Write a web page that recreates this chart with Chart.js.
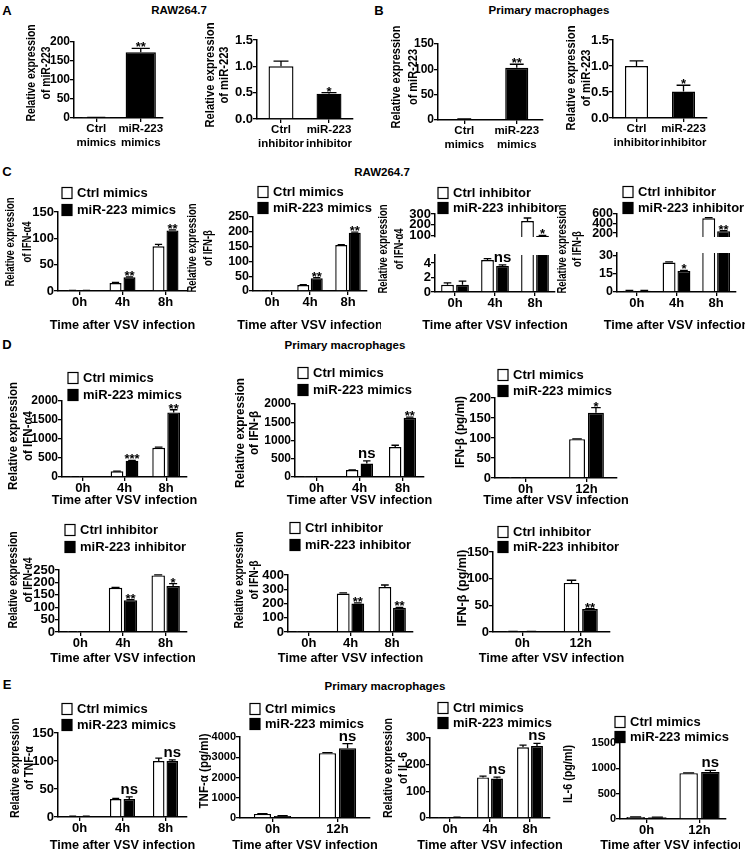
<!DOCTYPE html>
<html>
<head>
<meta charset="utf-8">
<script src="https://cdn.jsdelivr.net/npm/chart.js@4.4.1/dist/chart.umd.min.js"></script>
<style>
  body { margin: 0; width: 745px; height: 850px; position: relative; background: #fff; overflow: hidden;
         font-family: "Liberation Sans", Arial, sans-serif; font-weight: bold; color: #000; }
  canvas { position: absolute; }
  .lbl { position: absolute; transform: translate(-50%, -50%); white-space: nowrap; }
</style>
</head>
<body>
<div class="lbl" style="left:7px;top:10px;font-size:13px">A</div>
<div class="lbl" style="left:179px;top:10px;font-size:11.5px">RAW264.7</div>
<div class="lbl" style="left:379px;top:10px;font-size:13px">B</div>
<div class="lbl" style="left:549px;top:10px;font-size:11.5px">Primary macrophages</div>
<div class="lbl" style="left:7px;top:171px;font-size:13px">C</div>
<div class="lbl" style="left:382px;top:172px;font-size:11.5px">RAW264.7</div>
<div class="lbl" style="left:7px;top:344px;font-size:13px">D</div>
<div class="lbl" style="left:345px;top:345px;font-size:11.5px">Primary macrophages</div>
<div class="lbl" style="left:7px;top:684px;font-size:13px">E</div>
<div class="lbl" style="left:385px;top:686px;font-size:11.5px">Primary macrophages</div>

<script>
const FONT = '"Liberation Sans", Arial, sans-serif';

// category labels
const time3 = ["0h", "4h", "8h"];
const time2 = ["0h", "12h"];
const mimicPair = [["Ctrl", "mimics"], ["miR-223", "mimics"]];
const inhibPair = [["Ctrl", "inhibitor"], ["miR-223", "inhibitor"]];
const mimicNames = ["Ctrl mimics", "miR-223 mimics"];
const inhibNames = ["Ctrl inhibitor", "miR-223 inhibitor"];
const xTitle = "Time after VSV infection";

// A - RAW264.7 miR-223
const rawMimicMiR = [1, 173];
const rawMimicMiRSem = [0.3, 10];
const rawInhibMiR = [1.0, 0.48];
const rawInhibMiRSem = [0.1, 0.02];
// B - primary macrophages miR-223
const pmMimicMiR = [1.5, 103];
const pmMimicMiRSem = [0.5, 7];
const pmInhibMiR = [1.0, 0.51];
const pmInhibMiRSem = [0.1, 0.12];

// C - RAW264.7
const cA4Ctrl = [1, 15, 85], cA4CtrlSem = [0.3, 1.5, 3.5];
const cA4Mir = [1, 26, 115], cA4MirSem = [0.3, 1, 1];
const cBCtrl = [1, 20, 155], cBCtrlSem = [0.3, 1.5, 2];
const cBMir = [1, 43, 197], cBMirSem = [0.3, 2, 2];
const cA4InCtrl = [1.0, 4.4, 235], cA4InCtrlSem = [0.25, 0.2, 28];
const cA4InMir = [1.0, 3.6, 100], cA4InMirSem = [0.5, 0.15, 3];
const cBInCtrl = [1, 24.5, 510], cBInCtrlSem = [0.3, 0.6, 15];
const cBInMir = [1, 17.5, 240], cBInMirSem = [0.3, 0.6, 8];

// D - primary macrophages
const dA4Ctrl = [5, 150, 770], dA4CtrlSem = [1, 5, 15];
const dA4Mir = [5, 430, 1700], dA4MirSem = [1, 10, 70];
const dBCtrl = [5, 190, 820], dBCtrlSem = [1, 5, 50];
const dBMir = [5, 370, 1620], dBMirSem = [1, 70, 20];
const dProtCtrl = [0.5, 97], dProtCtrlSem = [0.2, 1];
const dProtMir = [0.5, 163], dProtMirSem = [0.2, 13];
const dA4InCtrl = [1, 178, 228], dA4InCtrlSem = [0.3, 2, 2];
const dA4InMir = [1, 128, 185], dA4InMirSem = [0.3, 2, 10];
const dBInCtrl = [1, 270, 315], dBInCtrlSem = [0.3, 5, 15];
const dBInMir = [1, 200, 170], dBInMirSem = [0.3, 5, 3];
const dProtInCtrl = [1, 92], dProtInCtrlSem = [0.3, 5];
const dProtInMir = [1, 43], dProtInMirSem = [0.3, 1];

// E - primary macrophages, TNF-a / IL-6
const eTnfCtrl = [1, 32, 100], eTnfCtrlSem = [0.3, 1, 5];
const eTnfMir = [1, 32, 100], eTnfMirSem = [0.3, 4, 2];
const eTnfPgCtrl = [200, 3200], eTnfPgCtrlSem = [10, 30];
const eTnfPgMir = [100, 3450], eTnfPgMirSem = [10, 220];
const eIl6Ctrl = [1, 152, 265], eIl6CtrlSem = [0.3, 5, 8];
const eIl6Mir = [3, 148, 270], eIl6MirSem = [0.5, 5, 10];
const eIl6PgCtrl = [40, 905], eIl6PgCtrlSem = [3, 5];
const eIl6PgMir = [35, 930], eIl6PgMirSem = [3, 30];

// y tick values
const ticks0to200 = [0, 50, 100, 150, 200];
const ticks0to150 = [0, 50, 100, 150];
const ticks0to250 = [0, 50, 100, 150, 200, 250];
const ticksFold = [0, 0.5, 1.0, 1.5];
const ticks0to2000 = [0, 500, 1000, 1500, 2000];
const ticks0to400 = [0, 100, 200, 300, 400];
const ticks0to300 = [0, 100, 200, 300];
const ticks0to4000 = [0, 1000, 2000, 3000, 4000];
const ticks0to1500 = [0, 500, 1000, 1500];
const ticksBrkA4Hi = [100, 200, 300], ticksBrkA4Lo = [0, 2, 4];
const ticksBrkBHi = [200, 400, 600], ticksBrkBLo = [0, 15, 30];

const relTitle = (g) => ["Relative expression", "of " + g];

function pair(names, c, cs, m, ms) {
  return [
    { label: names[0], data: c, sem: cs, fill: "#fff" },
    { label: names[1], data: m, sem: ms, fill: "#000" }
  ];
}
function single(v, s) {
  return [{ label: "", data: v, sem: s, fill: ["#fff", "#000"] }];
}

function decoPlugin(s, cl, ct) {
  return {
    id: "deco",
    afterDraw(chart) {
      const ctx = chart.ctx, a = chart.chartArea, ys = chart.scales.y;
      // error bars (upper SEM only)
      ctx.save();
      ctx.beginPath();
      ctx.rect(a.left - 3, a.top, a.right - a.left + 6, a.bottom - a.top);
      ctx.clip();
      ctx.strokeStyle = "#000";
      ctx.lineWidth = 1.3;
      s.series.forEach((d, di) => {
        chart.getDatasetMeta(di).data.forEach((bar, i) => {
          const yv = ys.getPixelForValue(d.data[i]);
          const ye = ys.getPixelForValue(d.data[i] + d.sem[i]);
          const cap = bar.width * 0.3;
          ctx.beginPath();
          ctx.moveTo(bar.x, yv); ctx.lineTo(bar.x, ye);
          ctx.moveTo(bar.x - cap, ye); ctx.lineTo(bar.x + cap, ye);
          ctx.stroke();
        });
      });
      ctx.restore();

      ctx.save();
      ctx.fillStyle = "#000";
      // significance marks
      ctx.textAlign = "center";
      ctx.textBaseline = "alphabetic";
      (s.sig || []).forEach(([di, i, t]) => {
        const d = s.series[di];
        const v = d.data[i] + d.sem[i];
        if (v < ys.min || v > ys.max) return;
        const bar = chart.getDatasetMeta(di).data[i];
        const y = ys.getPixelForValue(v);
        const star = t[0] === "*";
        ctx.font = "bold " + (star ? 13 : 15) + "px " + FONT;
        ctx.fillText(t, bar.x, star ? y + 3 : y - 3);
      });
      // legend
      if (s.legend) {
        s.series.forEach((d, di) => {
          const cy = (di ? s.legend.y2 : s.legend.y1) - ct, sx = s.legend.x - cl;
          ctx.fillStyle = d.fill;
          ctx.fillRect(sx, cy - 5.5, 10, 11);
          ctx.strokeStyle = "#000";
          ctx.lineWidth = 1.2;
          ctx.strokeRect(sx, cy - 5.5, 10, 11);
          ctx.fillStyle = "#000";
          ctx.font = "bold 13px " + FONT;
          ctx.textAlign = "left";
          ctx.textBaseline = "middle";
          ctx.fillText(d.label, sx + 15, cy + 0.5);
        });
      }
      // y title (two lines, squeezed to the measured length)
      if (s.yTitle) {
        const t = s.yTitle;
        ctx.font = "bold 12.5px " + FONT;
        const k = t.len / ctx.measureText(t.lines[0]).width;
        t.lines.forEach((line, j) => {
          ctx.save();
          ctx.translate(a.left - t.offs[j] - (j ? 3 : 1), t.yc - ct);
          ctx.rotate(-Math.PI / 2);
          ctx.textAlign = "center";
          ctx.textBaseline = "middle";
          ctx.fillText(line, 0, 0, ctx.measureText(line).width * k);
          ctx.restore();
        });
      }
      // x title
      if (s.xTitleY) {
        ctx.font = "bold 12.7px " + FONT;
        ctx.textAlign = "center";
        ctx.textBaseline = "middle";
        ctx.fillText(xTitle, (a.left + a.right) / 2, s.xTitleY - ct);
      }
      ctx.restore();
    }
  };
}

function drawChart(s) {
  const padL = 72, padR = 14;
  const padT = s.padTop || 62, padB = s.hideX ? 12 : 46;
  const cl = s.x - padL, ct = s.top - padT;
  const w = s.right - s.x + padL + padR, h = s.bottom - s.top + padT + padB;
  const cv = document.createElement("canvas");
  cv.width = w;
  cv.height = h;
  cv.style.left = cl + "px";
  cv.style.top = ct + "px";
  document.body.appendChild(cv);
  const font = (size) => ({ family: FONT, size: size, weight: "bold" });
  const grid = { display: true, drawOnChartArea: false, tickLength: 4, color: "#000", lineWidth: 1.3 };
  new Chart(cv, {
    type: "bar",
    data: {
      labels: s.labels,
      datasets: s.series.map((d) => ({
        label: d.label,
        data: d.data,
        backgroundColor: d.fill,
        borderColor: "#000",
        borderWidth: 1.4,
        categoryPercentage: s.catPct,
        barPercentage: s.barPct,
        clip: 0
      }))
    },
    options: {
      responsive: false,
      animation: false,
      devicePixelRatio: 1,
      events: [],
      layout: { padding: { left: 0, top: padT, right: padR, bottom: s.hideX ? padB : 0 } },
      plugins: { legend: { display: false }, tooltip: { enabled: false } },
      scales: {
        x: {
          display: !s.hideX,
          offset: true,
          grid: Object.assign({}, grid, { offset: false }),
          border: { color: "#000", width: 1.5 },
          ticks: { font: font(s.xTickSize || 13), color: "#000", padding: 0, maxRotation: 0, autoSkip: false },
          afterFit: (sc) => { sc.height = padB; }
        },
        y: {
          min: s.yMin || 0,
          max: s.yMax,
          grid: grid,
          border: { color: "#000", width: 1.5 },
          ticks: {
            font: font(s.tickSize || 13),
            color: "#000",
            padding: 0,
            autoSkip: false,
            callback: (v) => (s.dec ? v.toFixed(s.dec) : String(v))
          },
          afterBuildTicks: (sc) => { sc.ticks = s.yTicks.map((v) => ({ value: v })); },
          afterFit: (sc) => { sc.width = padL; }
        }
      }
    },
    plugins: [decoPlugin(s, cl, ct)]
  });
}

const charts = [
  // A
  { x: 74, right: 163, top: 42, bottom: 118, labels: mimicPair, series: single(rawMimicMiR, rawMimicMiRSem),
    yTicks: ticks0to200, yMax: 200, tickSize: 12, xTickSize: 11.5, catPct: 1, barPct: 0.68,
    yTitle: { lines: relTitle("miR-223"), offs: [41, 24], yc: 73, len: 97 }, sig: [[0, 1, "**"]] },
  { x: 257, right: 353, top: 40, bottom: 119, labels: inhibPair, series: single(rawInhibMiR, rawInhibMiRSem),
    yTicks: ticksFold, yMax: 1.5, dec: 1, xTickSize: 11.5, catPct: 1, barPct: 0.52,
    yTitle: { lines: relTitle("miR-223"), offs: [45, 29], yc: 75, len: 105 }, sig: [[0, 1, "*"]] },
  // B
  { x: 438, right: 543, top: 44, bottom: 120, labels: mimicPair, series: single(pmMimicMiR, pmMimicMiRSem),
    yTicks: ticks0to150, yMax: 150, tickSize: 12, xTickSize: 11.5, catPct: 1, barPct: 0.44,
    yTitle: { lines: relTitle("miR-223"), offs: [40, 21], yc: 77, len: 103 }, sig: [[0, 1, "**"]] },
  { x: 613, right: 707, top: 40, bottom: 118, labels: inhibPair, series: single(pmInhibMiR, pmInhibMiRSem),
    yTicks: ticksFold, yMax: 1.5, dec: 1, xTickSize: 11.5, catPct: 1, barPct: 0.49,
    yTitle: { lines: relTitle("miR-223"), offs: [40, 23], yc: 78, len: 105 }, sig: [[0, 1, "*"]] },
  // C
  { x: 58, right: 187, top: 212, bottom: 291, labels: time3, series: pair(mimicNames, cA4Ctrl, cA4CtrlSem, cA4Mir, cA4MirSem),
    yTicks: ticks0to150, yMax: 150, catPct: 0.65, barPct: 0.86, legend: { x: 62, y1: 193, y2: 210 },
    yTitle: { lines: relTitle("IFN-α4"), offs: [46, 27], yc: 242, len: 89 }, xTitleY: 325, sig: [[1, 1, "**"], [1, 2, "**"]] },
  { x: 253, right: 367, top: 217, bottom: 291, labels: time3, series: pair(mimicNames, cBCtrl, cBCtrlSem, cBMir, cBMirSem),
    yTicks: ticks0to250, yMax: 250, tickSize: 12.5, catPct: 0.71, barPct: 0.89, legend: { x: 258, y1: 192, y2: 208 },
    yTitle: { lines: relTitle("IFN-β"), offs: [59, 41], yc: 248, len: 89 }, xTitleY: 325, sig: [[1, 1, "**"], [1, 2, "**"]] },
  { x: 435, right: 555, top: 214, bottom: 249, hideX: true, labels: time3, series: pair(inhibNames, cA4InCtrl, cA4InCtrlSem, cA4InMir, cA4InMirSem),
    yTicks: ticksBrkA4Hi, yMin: 88, yMax: 300, catPct: 0.75, barPct: 0.85, legend: { x: 438, y1: 193, y2: 208 },
    sig: [[1, 1, "ns"], [1, 2, "*"]] },
  { x: 435, right: 555, top: 255, bottom: 292, padTop: 70, labels: time3, series: pair(inhibNames, cA4InCtrl, cA4InCtrlSem, cA4InMir, cA4InMirSem),
    yTicks: ticksBrkA4Lo, yMax: 5.1, catPct: 0.75, barPct: 0.85,
    yTitle: { lines: relTitle("IFN-α4"), offs: [50, 32], yc: 249, len: 89 }, xTitleY: 325, sig: [[1, 1, "ns"], [1, 2, "*"]] },
  { x: 617, right: 736, top: 214, bottom: 249, hideX: true, labels: time3, series: pair(inhibNames, cBInCtrl, cBInCtrlSem, cBInMir, cBInMirSem),
    yTicks: ticksBrkBHi, yMin: 117, yMax: 600, tickSize: 12.5, catPct: 0.75, barPct: 0.87, legend: { x: 623, y1: 192, y2: 208 },
    sig: [[1, 1, "*"], [1, 2, "**"]] },
  { x: 617, right: 736, top: 253, bottom: 292, padTop: 70, labels: time3, series: pair(inhibNames, cBInCtrl, cBInCtrlSem, cBInMir, cBInMirSem),
    yTicks: ticksBrkBLo, yMax: 32.5, tickSize: 12.5, catPct: 0.75, barPct: 0.87,
    yTitle: { lines: relTitle("IFN-β"), offs: [53, 36], yc: 249, len: 89 }, xTitleY: 325, sig: [[1, 1, "*"], [1, 2, "**"]] },
  // D top row
  { x: 62, right: 187, top: 401, bottom: 477, labels: time3, series: pair(mimicNames, dA4Ctrl, dA4CtrlSem, dA4Mir, dA4MirSem),
    yTicks: ticks0to2000, yMax: 2000, tickSize: 12, catPct: 0.72, barPct: 0.85, legend: { x: 68, y1: 378, y2: 395 },
    yTitle: { lines: relTitle("IFN-α4"), offs: [47, 30], yc: 436, len: 108 }, xTitleY: 500, sig: [[1, 1, "***"], [1, 2, "**"]] },
  { x: 295, right: 424, top: 404, bottom: 477, labels: time3, series: pair(mimicNames, dBCtrl, dBCtrlSem, dBMir, dBMirSem),
    yTicks: ticks0to2000, yMax: 2000, tickSize: 12, catPct: 0.68, barPct: 0.85, legend: { x: 298, y1: 373, y2: 390 },
    yTitle: { lines: relTitle("IFN-β"), offs: [53, 37], yc: 433, len: 110 }, xTitleY: 500, sig: [[1, 1, "ns"], [1, 2, "**"]] },
  { x: 495, right: 617, top: 398, bottom: 478, labels: time2, series: pair(mimicNames, dProtCtrl, dProtCtrlSem, dProtMir, dProtMirSem),
    yTicks: ticks0to200, yMax: 200, catPct: 0.62, barPct: 0.84, legend: { x: 498, y1: 375, y2: 391 },
    yTitle: { lines: ["IFN-β (pg/ml)"], offs: [33], yc: 432, len: 72 }, xTitleY: 500, sig: [[1, 1, "*"]] },
  // D bottom row
  { x: 59, right: 187, top: 570, bottom: 632, labels: time3, series: pair(inhibNames, dA4InCtrl, dA4InCtrlSem, dA4InMir, dA4InMirSem),
    yTicks: ticks0to250, yMax: 250, catPct: 0.7, barPct: 0.9, legend: { x: 65, y1: 530, y2: 547 },
    yTitle: { lines: relTitle("IFN-α4"), offs: [44, 27], yc: 580, len: 97 }, xTitleY: 658, sig: [[1, 1, "**"], [1, 2, "*"]] },
  { x: 288, right: 413, top: 575, bottom: 632, labels: time3, series: pair(inhibNames, dBInCtrl, dBInCtrlSem, dBInMir, dBInMirSem),
    yTicks: ticks0to400, yMax: 400, catPct: 0.7, barPct: 0.88, legend: { x: 290, y1: 528, y2: 545 },
    yTitle: { lines: relTitle("IFN-β"), offs: [47, 30], yc: 580, len: 97 }, xTitleY: 658, sig: [[1, 1, "**"], [1, 2, "**"]] },
  { x: 493, right: 610, top: 552, bottom: 632, labels: time2, series: pair(inhibNames, dProtInCtrl, dProtInCtrlSem, dProtInMir, dProtInMirSem),
    yTicks: ticks0to150, yMax: 150, catPct: 0.63, barPct: 0.85, legend: { x: 498, y1: 532, y2: 547 },
    yTitle: { lines: ["IFN-β (pg/ml)"], offs: [29], yc: 588, len: 77 }, xTitleY: 658, sig: [[1, 1, "**"]] },
  // E
  { x: 58, right: 187, top: 733, bottom: 817, labels: time3, series: pair(mimicNames, eTnfCtrl, eTnfCtrlSem, eTnfMir, eTnfMirSem),
    yTicks: ticks0to150, yMax: 150, catPct: 0.63, barPct: 0.85, legend: { x: 62, y1: 709, y2: 725 },
    yTitle: { lines: relTitle("TNF-α"), offs: [41, 25], yc: 768, len: 100 }, xTitleY: 845, sig: [[1, 1, "ns"], [1, 2, "ns"]] },
  { x: 240, right: 370, top: 737, bottom: 818, labels: time2, series: pair(mimicNames, eTnfPgCtrl, eTnfPgCtrlSem, eTnfPgMir, eTnfPgMirSem),
    yTicks: ticks0to4000, yMax: 4000, tickSize: 11, catPct: 0.62, barPct: 0.85, legend: { x: 250, y1: 709, y2: 724 },
    yTitle: { lines: ["TNF-α (pg/ml)"], offs: [34], yc: 771, len: 75 }, xTitleY: 845, sig: [[1, 1, "ns"]] },
  { x: 430, right: 550, top: 738, bottom: 818, labels: time3, series: pair(mimicNames, eIl6Ctrl, eIl6CtrlSem, eIl6Mir, eIl6MirSem),
    yTicks: ticks0to300, yMax: 300, tickSize: 12, catPct: 0.7, barPct: 0.85, legend: { x: 438, y1: 708, y2: 723 },
    yTitle: { lines: relTitle("IL-6"), offs: [40, 23], yc: 768, len: 100 }, xTitleY: 845, sig: [[1, 1, "ns"], [1, 2, "ns"]] },
  { x: 620, right: 726, top: 743, bottom: 819, labels: time2, series: pair(mimicNames, eIl6PgCtrl, eIl6PgCtrlSem, eIl6PgMir, eIl6PgMirSem),
    yTicks: ticks0to1500, yMax: 1500, tickSize: 11, catPct: 0.82, barPct: 0.85, legend: { x: 615, y1: 722, y2: 737 },
    yTitle: { lines: ["IL-6 (pg/ml)"], offs: [50], yc: 774, len: 58 }, xTitleY: 845, sig: [[1, 1, "ns"]] }
];

charts.forEach(drawChart);
</script>
</body>
</html>
